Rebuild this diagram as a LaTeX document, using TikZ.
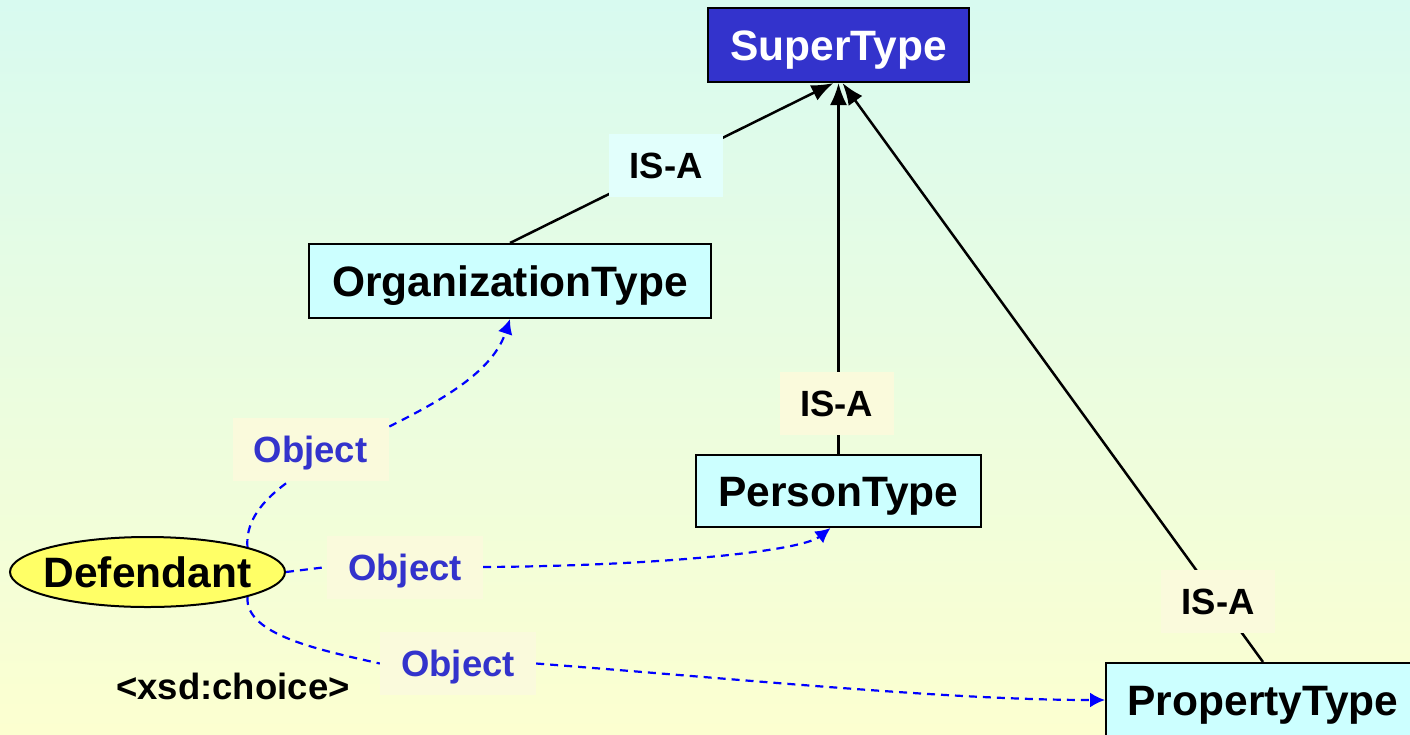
\documentclass[tikz,border=0pt]{standalone}
\usepackage{fontspec}
\setmainfont{Liberation Sans}
\usetikzlibrary{arrows.meta,shapes.geometric}

\definecolor{bgtop}{RGB}{216,250,240}
\definecolor{bgbot}{RGB}{252,255,208}
\definecolor{superfill}{RGB}{51,51,204}
\definecolor{typefill}{RGB}{204,255,255}
\definecolor{ellfill}{RGB}{255,255,102}
\definecolor{objtext}{RGB}{51,51,204}
\definecolor{tagcyan}{RGB}{226,255,252}
\definecolor{tagcream}{RGB}{250,250,220}
\definecolor{deplink}{RGB}{0,0,255}

\pgfdeclarelayer{backdrop}
\pgfdeclarelayer{links}
\pgfsetlayers{backdrop,links,main}

\tikzset{
  typebox/.style={draw=black, line width=2pt, fill=typefill, inner sep=0pt,
    font=\bfseries\fontsize{42.5}{48}\selectfont, text height=30pt, text depth=0pt},
  supbox/.style={typebox, fill=superfill, text=white},
  defell/.style={ellipse, draw=black, line width=2pt, fill=ellfill, inner sep=0pt,
    minimum width=275pt, minimum height=70pt,
    font=\bfseries\fontsize{42.5}{48}\selectfont, text height=30pt, text depth=0pt},
  tag/.style={fill=tagcream, inner sep=0pt, minimum height=63pt,
    font=\bfseries\fontsize{36.5}{42}\selectfont, text height=26pt, text depth=0pt},
  isatag/.style={tag, minimum width=114pt},
  objtag/.style={tag, minimum width=156pt, text=objtext},
  isa/.style={draw=black, line width=2.5pt, -{Latex[length=22pt,width=17pt]}},
  dep/.style={draw=deplink, line width=2.2pt, dash pattern=on 8pt off 6pt},
  deparrow/.style={dep, -{Latex[length=15pt,width=15pt]}},
}

\begin{document}
\begin{tikzpicture}[x=1pt, y=-1pt]
  \useasboundingbox (0,0) rectangle (1410,734);
  \begin{pgfonlayer}{backdrop}
    \shade[top color=bgtop, bottom color=bgbot] (0,0) rectangle (1410,734);
  \end{pgfonlayer}

  % type hierarchy
  \node[supbox, minimum width=261pt, minimum height=74pt] (super) at (838.5,45) {SuperType};
  \node[typebox, minimum width=402pt, minimum height=74pt] (org) at (510,281) {OrganizationType};
  \node[typebox, minimum width=285pt, minimum height=72pt] (person) at (838.5,491) {PersonType};
  \node[typebox, minimum width=314pt, minimum height=74pt] (prop) at (1263,700) {PropertyType};

  % element with a choice of types
  \node[defell] (def) at (147.5,572) {\makebox[0pt]{Defendant}};
  \node[font=\bfseries\fontsize{36.5}{42}\selectfont, text height=26pt, text depth=0pt, inner sep=0pt]
    (choice) at (233,686) {<xsd:choice>};

  % connector labels
  \node[isatag, fill=tagcyan] (isa1) at (666,165) {IS-A};
  \node[isatag] (isa2) at (836.5,403) {IS-A};
  \node[isatag] (isa3) at (1218,601.5) {IS-A};
  \node[objtag] (obj1) at (310.5,449.5) {Object};
  \node[objtag] (obj2) at (405,567) {Object};
  \node[objtag] (obj3) at (458,663.5) {Object};

  \begin{pgfonlayer}{links}
    % generalisation
    \draw[isa] (org.north) -- ([xshift=-5pt]super.south);
    \draw[isa] (person.north) -- (super.south);
    \draw[isa] (prop.north) -- ([xshift=4pt]super.south);
    % object references
    \draw[deparrow] (def.14.5) .. controls (240,455) and (475,425) .. (org.south);
    \draw[dep] (def.east) -- (obj2.west);
    \draw[deparrow] (obj2.east) .. controls (650,566) and (800,552) .. ([xshift=-8pt]person.south);
    \draw[dep] (def.-14.5) .. controls (245,635) and (320,650) .. (obj3.west);
    \draw[deparrow] (obj3.east) .. controls (750,680) and (950,700) .. (prop.west);
  \end{pgfonlayer}
\end{tikzpicture}
\end{document}
